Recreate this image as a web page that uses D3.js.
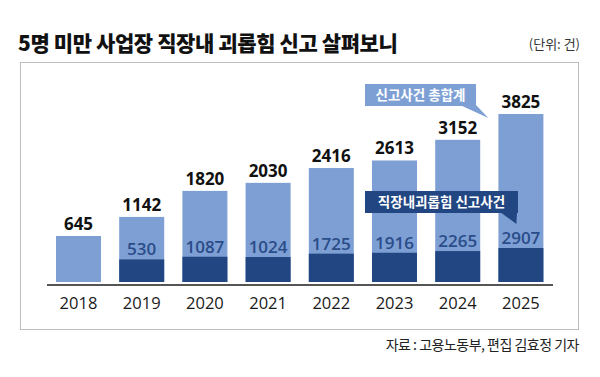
<!DOCTYPE html>
<html><head><meta charset="utf-8">
<script src="https://cdn.jsdelivr.net/npm/d3@7"></script>
<style>
html,body{margin:0;padding:0;background:#fff;}
svg{display:block;}
</style></head>
<body>
<svg id="chart" width="600" height="377"></svg>
<script>
const years = ["2018","2019","2020","2021","2022","2023","2024","2025"];
const totalReports = [645, 1142, 1820, 2030, 2416, 2613, 3152, 3825];
const harassmentReports = [null, 530, 1087, 1024, 1725, 1916, 2265, 2907];
const titleText = "5명 미만 사업장 직장내 괴롭힘 신고 살펴보니";
const unitText = "(단위: 건)";
const sourceText = "자료 : 고용노동부, 편집 김효정 기자";
const legendTotal = "신고사건 총합계";
const legendHarass = "직장내괴롭힘 신고사건";

const LIGHT = "#7d9fd4", DARK = "#214682", DARKTXT = "#2a4c88";
const KR = "'Noto Sans CJK KR','Noto Sans',sans-serif";
const NUM = "'Open Sans','Noto Sans',sans-serif";

const svg = d3.select("#chart");
const base = 282;

const x = d3.scaleBand().domain(years).range([56, 543.4]).paddingInner(0.288).paddingOuter(0);
// chart is not drawn from zero: scales with offset baseline
const y = d3.scaleLinear().domain([-555, 3825]).range([base, 114]);
const yd = d3.scaleLinear().domain([-4167, 2907]).range([base, 248]);

// title
svg.append("text").attr("x", 18).attr("y", 51).text(titleText)
  .attr("font-family", KR).attr("font-weight", 900).attr("font-size", 21)
  .attr("letter-spacing", -0.4).attr("fill", "#111");
svg.append("text").attr("x", 580).attr("y", 49).attr("text-anchor", "end").text(unitText)
  .attr("font-family", KR).attr("font-size", 13).attr("fill", "#333");

// frame
svg.append("rect").attr("x", 20.5).attr("y", 62.5).attr("width", 558).attr("height", 267)
  .attr("fill", "none").attr("stroke", "#bdbdbd").attr("stroke-width", 1);

// source
svg.append("text").attr("x", 579).attr("y", 350).attr("text-anchor", "end").text(sourceText)
  .attr("font-family", KR).attr("font-size", 14).attr("letter-spacing", -0.5).attr("fill", "#222");

const data = years.map((yr, i) => ({yr, t: totalReports[i], h: harassmentReports[i]}));

// total bars
svg.selectAll("rect.tot").data(data).join("rect").attr("class", "tot")
  .attr("x", d => x(d.yr)).attr("width", x.bandwidth())
  .attr("y", d => y(d.t)).attr("height", d => base - y(d.t)).attr("fill", LIGHT);

// harassment bars
const dh = data.filter(d => d.h != null);
svg.selectAll("rect.har").data(dh).join("rect").attr("class", "har")
  .attr("x", d => x(d.yr)).attr("width", x.bandwidth())
  .attr("y", d => yd(d.h)).attr("height", d => base - yd(d.h)).attr("fill", DARK);

// total labels
svg.selectAll("text.tl").data(data).join("text").attr("class", "tl")
  .attr("x", d => x(d.yr) + x.bandwidth() / 2).attr("y", d => y(d.t) - 6)
  .attr("text-anchor", "middle").text(d => d.t)
  .attr("font-family", NUM).attr("font-weight", 700).attr("font-size", 17).attr("fill", "#111");

// harassment labels
svg.selectAll("text.hl").data(dh).join("text").attr("class", "hl")
  .attr("x", d => x(d.yr) + x.bandwidth() / 2).attr("y", d => yd(d.h) - 4)
  .attr("text-anchor", "middle").text(d => d.h)
  .attr("font-family", NUM).attr("font-weight", 600).attr("font-size", 17).attr("fill", DARKTXT);

// x axis
const axis = svg.append("g").attr("transform", `translate(0,${base + 3})`)
  .call(d3.axisBottom(x).tickSize(0).tickPadding(12));
axis.select(".domain").remove();
axis.append("line").attr("x1", 47).attr("x2", 553).attr("stroke", "#555").attr("stroke-width", 2);
axis.selectAll(".tick text").attr("font-family", NUM).attr("font-size", 16.5).attr("fill", "#1a1a1a");

// callouts
function callout(bx, by, bw, bh, tail, fill, label) {
  const g = svg.append("g");
  g.append("rect").attr("x", bx).attr("y", by).attr("width", bw).attr("height", bh).attr("fill", fill);
  g.append("path").attr("d", d3.line()(tail)).attr("fill", fill);
  g.append("text").attr("x", bx + bw / 2).attr("y", by + bh / 2 + 4.5).attr("text-anchor", "middle")
    .text(label).attr("font-family", KR).attr("font-weight", 700).attr("font-size", 13.5).attr("fill", "#fff");
}
const x25 = x("2025");
callout(365, 84, 111, 22, [[460, 105], [476, 105], [x25 - 10, 118]], LIGHT, legendTotal);
callout(365, 191, 153, 22, [[500, 212], [517, 212], [x25 + 18, 224]], DARK, legendHarass);
</script>
</body></html>
